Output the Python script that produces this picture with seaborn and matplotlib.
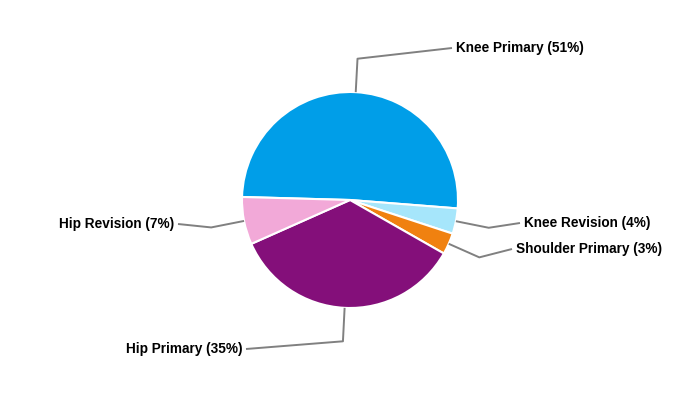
import numpy as np
import matplotlib
matplotlib.use('Agg')
import matplotlib.pyplot as plt
import seaborn as sns

# Data (shares)
categories = ['Knee Primary', 'Knee Revision', 'Shoulder Primary', 'Hip Primary', 'Hip Revision']
shares = [50.8, 3.8, 3.2, 35.1, 7.1]
label_pcts = [51, 4, 3, 35, 7]
colors = ['#009EE8', '#A6E6FB', '#F08110', '#840F7A', '#F2A9D8']

# label anchor positions in pixels (end of leader line), and text side
label_anchor_px = [(452, 48), (520, 223), (512, 249), (246, 349), (178, 224)]
label_side = ['left', 'left', 'left', 'right', 'right']

sns.set_theme(style='white')
plt.rcParams['font.family'] = ['Liberation Sans', 'DejaVu Sans']

W, H = 700, 400
R_PX = 108
CX, CY = 350, 200

fig = plt.figure(figsize=(7, 4), dpi=100)
ax = fig.add_axes([0, 0, 1, 1])

start = 178.4
wedges, _ = ax.pie(shares, colors=colors, startangle=start, counterclock=False,
                   radius=1.0, wedgeprops=dict(edgecolor='white', linewidth=1.5))


def px_to_data(px, py):
    return (px - CX) / R_PX, (CY - py) / R_PX


for w, cat, pct, anchor, side in zip(wedges, categories, label_pcts, label_anchor_px, label_side):
    mid = np.deg2rad((w.theta1 + w.theta2) / 2)
    x0, y0 = np.cos(mid), np.sin(mid)
    x1, y1 = 1.31 * np.cos(mid), 1.31 * np.sin(mid)
    x2, y2 = px_to_data(*anchor)
    ax.plot([x0, x1, x2], [y0, y1, y2], color='#808080', lw=1.4, solid_capstyle='butt')
    off = 4 / R_PX
    tx = x2 + off if side == 'left' else x2 - off
    ax.text(tx, y2, f'{cat} ({pct}%)', ha=side, va='center',
            fontsize=9.8, fontweight='bold', color='black')

ax.set_xlim(-CX / R_PX, (W - CX) / R_PX)
ax.set_ylim(-(H - CY) / R_PX, CY / R_PX)
ax.set_aspect('equal')
ax.axis('off')

fig.savefig('out.png', dpi=100, facecolor='white')
